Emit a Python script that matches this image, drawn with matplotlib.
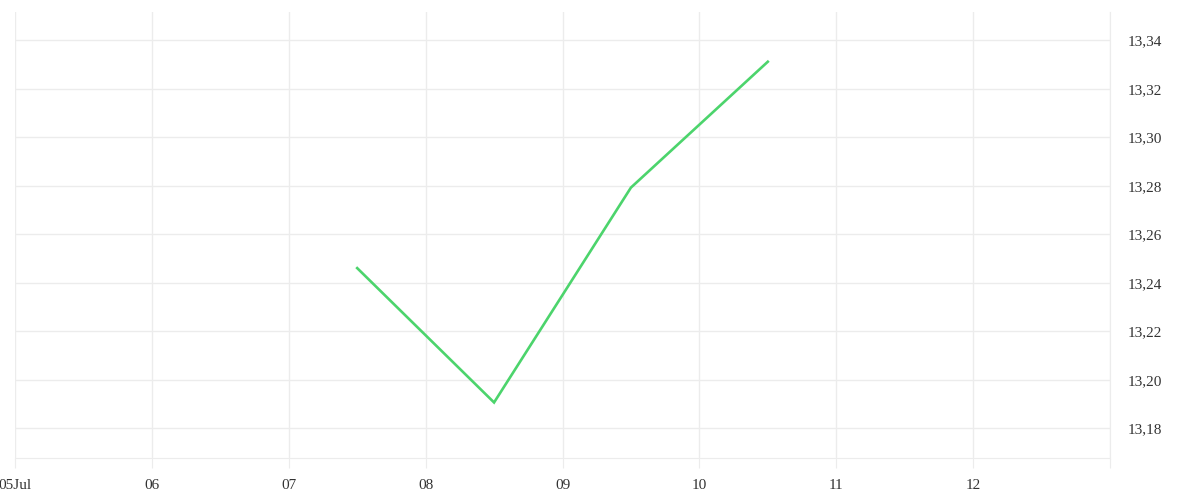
import matplotlib
matplotlib.use("Agg")
import matplotlib.pyplot as plt
import matplotlib.dates as mdates
from matplotlib.ticker import FuncFormatter, FixedLocator
import pandas as pd

# data
times = ["2024-07-07 12:00", "2024-07-08 12:00", "2024-07-09 12:00", "2024-07-10 12:00"]
values = [13.2461, 13.1907, 13.2793, 13.3312]

tick_days = ["2024-07-05", "2024-07-06", "2024-07-07", "2024-07-08",
             "2024-07-09", "2024-07-10", "2024-07-11", "2024-07-12", "2024-07-13"]
tick_labels = ["05Jul", "06", "07", "08", "09", "10", "11", "12", ""]
y_ticks = [13.18, 13.20, 13.22, 13.24, 13.26, 13.28, 13.30, 13.32, 13.34]

x = pd.to_datetime(times)
ticks = mdates.date2num(pd.to_datetime(tick_days))

grid_col = "#ececec"
text_col = "#333333"

fig = plt.figure(figsize=(12, 5), dpi=100)
ax = fig.add_axes([15 / 1200, 42 / 500, 1095 / 1200, 446 / 500])

ax.plot(x, values, color="#4cd46c", linewidth=1.9, solid_joinstyle="miter")

ax.set_xlim(ticks[0], ticks[-1])
ax.set_ylim(13.1678, 13.3517)

ax.xaxis.set_major_locator(FixedLocator(ticks))
ax.set_xticklabels(tick_labels)
ax.yaxis.set_major_locator(FixedLocator(y_ticks))
ax.yaxis.set_major_formatter(FuncFormatter(lambda v, p: f"{v:.2f}".replace(".", ",")))

ax.yaxis.tick_right()
ax.grid(True, color=grid_col, linewidth=1)
ax.set_axisbelow(True)

for side in ["top", "left"]:
    ax.spines[side].set_visible(False)
ax.spines["bottom"].set_color(grid_col)
ax.spines["right"].set_color(grid_col)

ax.tick_params(axis="x", length=7, color=grid_col, pad=8, labelsize=11,
               labelcolor=text_col)
ax.tick_params(axis="y", length=0, pad=13, labelsize=11, labelcolor=text_col)

for lab in ax.get_xticklabels() + ax.get_yticklabels():
    lab.set_fontfamily("Liberation Serif")

fig.patch.set_facecolor("white")
plt.savefig("out.png", dpi=100)
